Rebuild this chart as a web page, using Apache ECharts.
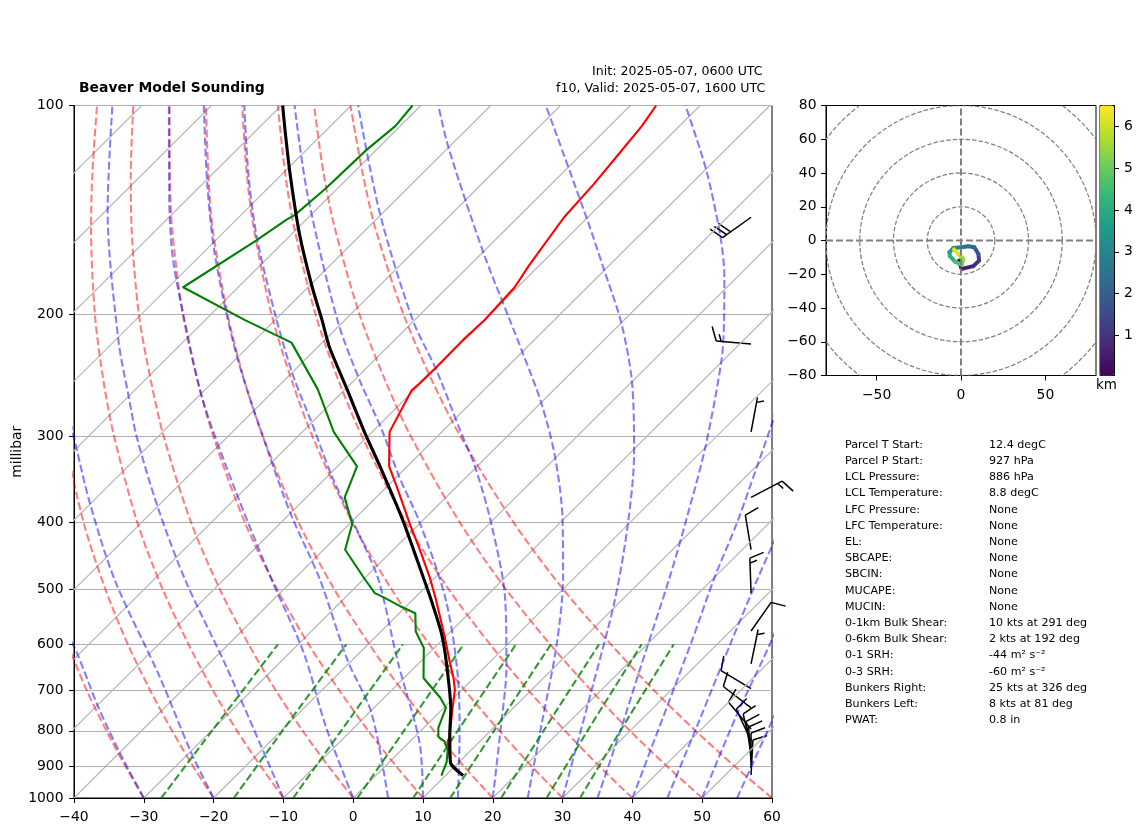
<!DOCTYPE HTML>
<html>

<head>
    <title>Beaver Model Sounding</title>
    <script src="https://cdn.jsdelivr.net/npm/echarts@6/dist/echarts.min.js"></script>
    <style>
        html, body { margin: 0; padding: 0; background: #fff; }
    </style>
</head>

<body>

<div id="main" style="width: 1142px;height: 832px;"></div>

<script type="text/javascript">

    // sounding profiles, pressure in hPa and temperature in degC
    var tempP = [928, 890, 829, 816, 738, 698, 671, 638, 585, 518, 481, 438, 403, 355, 332, 296, 258, 252, 239, 218, 204, 183, 170, 145, 130, 117, 107, 100];
    var tempT = [12.5, 8.9, 5.4, 5.0, 1.1, -1.0, -2.9, -5.6, -10.1, -16.6, -20.7, -26.2, -31.2, -38.6, -42.6, -47.5, -50.3, -50.2, -50.1, -50.2, -50.0, -50.4, -51.5, -53.4, -53.9, -54.7, -55.4, -56.3];

    var dewP = [928, 887, 852, 829, 816, 792, 741, 717, 671, 607, 575, 541, 528, 514, 506, 484, 438, 402, 368, 332, 296, 257, 220, 204, 183, 157, 146, 144, 132, 116, 107, 100];
    var dewT = [9.4, 8.2, 6.6, 5.0, 3.4, 2.1, 0.3, -1.9, -7.2, -11.5, -15.0, -17.7, -21.0, -24.3, -26.4, -29.7, -36.9, -39.6, -44.5, -47.2, -55.5, -63.9, -74.4, -84.4, -97.9, -94.2, -92.8, -92.3, -91.7, -91.4, -90.7, -91.2];

    var parcelP = [928, 890, 806, 746, 638, 578, 518, 465, 397, 332, 297, 257, 223, 204, 183, 153, 124, 107, 100];
    var parcelT = [12.5, 8.9, 4.5, 1.3, -6.1, -11.1, -17.3, -23.6, -32.9, -43.9, -50.9, -59.7, -68.4, -73.3, -79.4, -89.0, -99.5, -106.6, -109.8];

    // background lines
    var isotherms = [-130, -120, -110, -100, -90, -80, -70, -60, -50, -40, -30, -20, -10, 0, 10, 20, 30, 40, 50];

    var dryLevels = [1000, 900, 800, 700, 600, 500, 400, 300, 250, 200, 150, 125, 100];
    var dryAdiabats = [
        [-30, -37.2, -45.0, -53.6, -63.0, -73.7, -86.0],
        [-20, -27.5, -35.6, -44.5, -54.4, -65.5, -78.3, -93.5, -102.5, -113.0],
        [-10, -17.8, -26.3, -35.5, -45.7, -57.3, -70.6, -86.4, -95.8, -106.7, -119.7, -127.4, -136.4],
        [0, -8.1, -16.9, -26.5, -37.1, -49.1, -62.9, -79.3, -89.0, -100.4, -113.9, -121.9, -131.2],
        [10, 1.6, -7.5, -17.4, -28.5, -40.9, -55.2, -72.2, -82.3, -94.1, -108.1, -116.3, -126.0],
        [20, 11.3, 1.9, -8.4, -19.8, -32.7, -47.5, -65.1, -75.6, -87.7, -102.3, -110.8, -120.8],
        [30, 21.0, 11.3, 0.6, -11.2, -24.5, -39.8, -58.0, -68.8, -81.4, -96.4, -105.3, -115.6],
        [40, 30.7, 20.7, 9.7, -2.5, -16.3, -32.1, -50.9, -62.1, -75.1, -90.6, -99.8, -110.5],
        [50, 40.4, 30.0, 18.7, 6.1, -8.1, -24.4, -43.9, -55.4, -68.8, -84.8, -94.3, -105.3],
        [60, 50.1, 39.4, 27.7, 14.8, 0.1, -16.7, -36.8, -48.7, -62.5, -79.0, -88.7, -100.1]
    ];

    // [pressure, temperature] read along each moist adiabat
    var moistAdiabats = [
        [[1000, -30], [861, -39.9], [738, -49.7], [615, -60.7], [553, -67.7]],
        [[1000, -20], [862, -29.6], [668, -45.2], [484, -65.6], [375, -80.2], [312, -90.1], [266, -98.6]],
        [[1000, -10], [646, -37.1], [484, -55.5], [380, -69.9], [301, -83.0], [263, -90.0], [218, -99.6], [142, -119.7], [100, -134.2]],
        [[1000, 0], [790, -14.1], [617, -28.0], [484, -43.1], [363, -60.6], [266, -78.9], [204, -93.0], [167, -103.3], [138, -112.1], [100, -126.1]],
        [[1000, 5], [754, -9.6], [632, -20.7], [483, -36.3], [393, -49.2], [332, -59.2], [230, -80.3], [165, -97.8], [129, -109.6], [100, -121.1]],
        [[1000, 10], [833, 1.6], [636, -13.2], [484, -27.8], [419, -36.7], [344, -49.2], [287, -60.0], [246, -69.3], [204, -79.8], [156, -94.2], [126, -104.7], [100, -115.3]],
        [[1000, 15], [806, 5.9], [682, -1.5], [518, -15.2], [399, -30.3], [344, -39.6], [294, -48.9], [249, -59.3], [204, -71.1], [134, -93.6], [100, -108.1]],
        [[1000, 20], [785, 10.7], [647, 3.1], [518, -6.7], [401, -19.8], [332, -30.3], [297, -37.1], [241, -49.7], [204, -60.3], [143, -80.4], [100, -99.0]],
        [[1000, 25], [772, 15.9], [601, 7.1], [479, -1.8], [397, -10.0], [321, -20.3], [269, -29.9], [228, -39.7], [204, -46.4], [163, -59.9], [115, -80.0], [100, -87.5]],
        [[1000, 30], [698, 18.6], [518, 9.0], [401, -0.2], [317, -9.5], [250, -20.1], [206, -30.0], [173, -40.0], [146, -49.8], [100, -72.1]],
        [[1000, 35], [789, 28.2], [653, 22.6], [479, 13.5], [397, 7.7], [312, 0.0], [233, -10.3], [204, -15.7], [177, -21.8], [155, -28.1], [124, -39.8], [100, -52.1]],
        [[1000, 40], [591, 25.8], [480, 20.0], [401, 15.4], [333, 10.2], [287, 6.0], [241, 0.9]],
        [[1000, 45], [772, 38.4], [591, 31.5], [481, 26.3], [434, 23.8], [377, 20.4]],
        [[1000, 50], [759, 43.0], [591, 37.2], [484, 31.9]],
        [[1000, 55], [777, 49.0], [632, 44.1]]
    ];

    var mixingLevels = [1000, 800, 600];
    var mixingLines = [
        [-27.5, -29.9, -32.9],
        [-17.1, -19.8, -23.1],
        [-8.6, -11.4, -15.0],
        [0.6, -2.4, -6.3],
        [8.6, 5.3, 1.2],
        [13.9, 10.5, 6.2],
        [21.2, 17.6, 13.1],
        [27.7, 23.9, 19.2],
        [32.5, 28.6, 23.8]
    ];

    // wind barbs
    var barbP = [145, 221, 296, 368, 438, 506, 574, 640, 695, 741, 795, 827, 847, 870, 887, 905, 926];
    var barbSpeed = [30, 15, 5, 15, 10, 15, 10, 5, 10, 10, 10, 10, 10, 10, 10, 10, 10];
    var barbDir = [234.5, 275, 10.6, 62.4, 350.6, 358, 35, 11.7, 301, 307.6, 320, 335, 347, 352, 356, 0, 3];

    // hodograph, knots and km
    var hodoU = [-1.2, 0.4, 7.3, 10.7, 10.3, 7.9, 4.3, 0.4, -4.5, -6.9, -6.5, -3.6, 0.4, 1.4, -1.6, -4.2];
    var hodoV = [-11.9, -16.8, -15.2, -11.9, -7.9, -4.0, -3.4, -4.0, -4.5, -6.9, -9.3, -12.5, -14.4, -10.9, -7.9, -5.3];
    var hodoH = [0.1, 0.4, 0.7, 1.1, 1.5, 2.0, 2.3, 2.7, 3.1, 3.5, 3.9, 4.3, 4.9, 5.3, 5.9, 6.4];
    var hodoRings = [20, 40, 60, 80, 100];

    var pressureTicks = [100, 200, 300, 400, 500, 600, 700, 800, 900, 1000];
    var viridis = ['#440154', '#482878', '#3e4989', '#31688e', '#26828e', '#1f9e89', '#35b779', '#6ece58', '#b5de2b', '#fde725'];

    var statLabels = ['Parcel T Start:', 'Parcel P Start:', 'LCL Pressure:', 'LCL Temperature:', 'LFC Pressure:', 'LFC Temperature:', 'EL:', 'SBCAPE:', 'SBCIN:', 'MUCAPE:', 'MUCIN:', '0-1km Bulk Shear:', '0-6km Bulk Shear:', '0-1 SRH:', '0-3 SRH:', 'Bunkers Right:', 'Bunkers Left:', 'PWAT:'];
    var statValues = ['12.4 degC', '927 hPa', '886 hPa', '8.8 degC', 'None', 'None', 'None', 'None', 'None', 'None', 'None', '10 kts at 291 deg', '2 kts at 192 deg', '-44 m\u00b2 s\u207b\u00b2', '-60 m\u00b2 s\u207b\u00b2', '25 kts at 326 deg', '8 kts at 81 deg', '0.8 in'];

    var FONT = '"DejaVu Sans"';
    var SKEW = 99.7;    // degrees of x per decade of pressure, 45 degree isotherms

    function skewPoint(p, t) {
        return [t + SKEW * Math.log10(1000 / p), Math.log10(p)];
    }

    function minusLabel(v) {
        return String(v).replace('-', '\u2212');
    }

    function guideLine(points, color, width, dash, opacity, smooth) {
        return {
            type: 'line',
            xAxisIndex: 0,
            yAxisIndex: 0,
            data: points,
            symbol: 'none',
            silent: true,
            clip: true,
            smooth: smooth || false,
            lineStyle: { color: color, width: width, type: dash || 'solid', opacity: opacity, join: 'round' }
        };
    }

    function profileLine(pres, temp, color, width, smooth) {
        var pts = pres.map(function (p, i) { return skewPoint(p, temp[i]); });
        return guideLine(pts, color, width, null, 1, smooth);
    }

    function renderBarb(params, api) {
        var base = api.coord([api.value(0), api.value(1)]);
        var speed = api.value(2);
        var ang = api.value(3) * Math.PI / 180;
        var sx = Math.sin(ang), sy = -Math.cos(ang);
        var px = -sy, py = sx;
        var tip = [base[0] + 35 * sx, base[1] + 35 * sy];
        var style = { stroke: '#000', lineWidth: 1.5, fill: null };
        var kids = [{ type: 'line', shape: { x1: base[0], y1: base[1], x2: tip[0], y2: tip[1] }, style: style }];
        var pos = 0;
        var full = Math.floor(speed / 10);
        for (var i = 0; i < full; i++) {
            var a = [tip[0] - pos * sx, tip[1] - pos * sy];
            kids.push({ type: 'line', shape: { x1: a[0], y1: a[1], x2: a[0] + 14 * px + 5.25 * sx, y2: a[1] + 14 * py + 5.25 * sy }, style: style });
            pos += 5;
        }
        if (speed % 10 >= 5) {
            if (full === 0) { pos = 5; }
            var b = [tip[0] - pos * sx, tip[1] - pos * sy];
            kids.push({ type: 'line', shape: { x1: b[0], y1: b[1], x2: b[0] + 7 * px + 2.6 * sx, y2: b[1] + 7 * py + 2.6 * sy }, style: style });
        }
        return { type: 'group', children: kids };
    }

    function renderRing(params, api) {
        var c = api.coord([0, 0]);
        var e = api.coord([api.value(0), 0]);
        return {
            type: 'circle',
            shape: { cx: c[0], cy: c[1], r: e[0] - c[0] },
            style: { fill: 'none', stroke: '#808080', lineWidth: 1.25, lineDash: [4.5, 2] }
        };
    }

    function renderHodoSegment(params, api) {
        var a = api.coord([api.value(0), api.value(1)]);
        var b = api.coord([api.value(2), api.value(3)]);
        return {
            type: 'line',
            shape: { x1: a[0], y1: a[1], x2: b[0], y2: b[1] },
            style: { stroke: api.visual('color'), lineWidth: 4, lineCap: 'round', fill: null }
        };
    }

    function buildSeries() {
        var series = [];
        isotherms.forEach(function (t) {
            series.push(guideLine([skewPoint(1000, t), skewPoint(100, t)], '#b8b8b8', 1.2, null, 1));
        });
        dryAdiabats.forEach(function (row) {
            var pts = row.map(function (t, i) { return skewPoint(dryLevels[i], t); });
            series.push(guideLine(pts, '#ff0000', 2.1, [7.7, 3.3], 0.5, 0.3));
        });
        moistAdiabats.forEach(function (line) {
            var pts = line.map(function (d) { return skewPoint(d[0], d[1]); });
            series.push(guideLine(pts, '#0000ff', 2.1, [7.7, 3.3], 0.5, 0.3));
        });
        mixingLines.forEach(function (row) {
            var pts = row.map(function (t, i) { return skewPoint(mixingLevels[i], t); });
            series.push(guideLine(pts, '#008000', 2.1, [7.7, 3.3], 0.8, 0.3));
        });
        series.push(profileLine(tempP, tempT, '#ff0000', 2.1));
        series.push(profileLine(dewP, dewT, '#008000', 2.1));
        series.push(profileLine(parcelP, parcelT, '#000000', 3.1, 0.2));

        series.push({
            type: 'custom',
            xAxisIndex: 0,
            yAxisIndex: 0,
            silent: true,
            clip: false,
            renderItem: renderBarb,
            encode: { x: 0, y: 1 },
            data: barbP.map(function (p, i) { return [57, Math.log10(p), barbSpeed[i], barbDir[i]]; })
        });

        // hodograph
        series.push({
            type: 'custom',
            xAxisIndex: 1,
            yAxisIndex: 1,
            silent: true,
            clip: true,
            renderItem: renderRing,
            encode: { x: 0, y: 1 },
            data: hodoRings.map(function (r) { return [r, 0]; })
        });
        [[[-80, 0], [80, 0]], [[0, -80], [0, 80]]].forEach(function (pts) {
            series.push({
                type: 'line',
                xAxisIndex: 1,
                yAxisIndex: 1,
                data: pts,
                symbol: 'none',
                silent: true,
                lineStyle: { color: '#808080', width: 2, type: [7, 3] }
            });
        });
        var segments = [];
        for (var i = 0; i < hodoU.length - 1; i++) {
            segments.push([hodoU[i], hodoV[i], hodoU[i + 1], hodoV[i + 1], (hodoH[i] + hodoH[i + 1]) / 2]);
        }
        series.push({
            type: 'custom',
            xAxisIndex: 1,
            yAxisIndex: 1,
            silent: true,
            renderItem: renderHodoSegment,
            encode: { x: [0, 2], y: [1, 3] },
            data: segments
        });
        return series;
    }

    function buildGraphics() {
        var g = [
            { type: 'text', left: 79, top: 74, style: { text: 'Beaver Model Sounding', font: 'bold 13.9px ' + FONT, fill: '#000' } },
            { type: 'text', left: 592, top: 59, style: { text: 'Init: 2025-05-07, 0600 UTC', font: '12.6px ' + FONT, fill: '#000' } },
            { type: 'text', left: 556, top: 76.5, style: { text: 'f10, Valid: 2025-05-07, 1600 UTC', font: '12.6px ' + FONT, fill: '#000' } },
            { type: 'text', left: 1096, top: 372, style: { text: 'km', font: '13.5px ' + FONT, fill: '#000' } }
        ];
        statLabels.forEach(function (label, i) {
            var y = 434 + i * 16.2;
            g.push({ type: 'text', left: 845, top: y, style: { text: label, font: '11.1px ' + FONT, fill: '#000' } });
            g.push({ type: 'text', left: 989, top: y, style: { text: statValues[i], font: '11.1px ' + FONT, fill: '#000' } });
        });
        return g;
    }

    var tickLine = { show: true, length: 5, lineStyle: { color: '#000', width: 1 } };
    var axisEdge = { show: true, onZero: false, lineStyle: { color: '#000', width: 1 } };
    var labelStyle = { color: '#000', fontFamily: FONT, fontSize: 13.9 };

    var myChart = echarts.init(document.getElementById('main'), null, { width: 1142, height: 832, renderer: 'canvas' });

    var hodoIndex = buildSeries().length - 1;

    myChart.setOption({
        animation: false,
        textStyle: { fontFamily: FONT },
        grid: [
            { left: 74, top: 105.5, width: 698, height: 692.5, show: true, borderColor: '#000', borderWidth: 1, outerBoundsMode: 'none' },
            { left: 826, top: 105.5, width: 270, height: 270, show: true, borderColor: '#000', borderWidth: 1, outerBoundsMode: 'none' },
            { left: 1100, top: 105.5, width: 14, height: 270, show: true, borderColor: '#000', borderWidth: 1, backgroundColor: 'transparent', outerBoundsMode: 'none' }
        ],
        xAxis: [
            {
                type: 'value', gridIndex: 0, min: -40, max: 60, interval: 10,
                axisLine: axisEdge, axisTick: tickLine, splitLine: { show: false },
                axisLabel: Object.assign({ formatter: minusLabel, margin: 6 }, labelStyle)
            },
            {
                type: 'value', gridIndex: 1, min: -80, max: 80,
                axisLine: axisEdge,
                axisTick: Object.assign({ customValues: [-50, 0, 50] }, tickLine),
                splitLine: { show: false },
                axisLabel: Object.assign({ customValues: [-50, 0, 50], formatter: minusLabel, margin: 6 }, labelStyle)
            },
            { type: 'value', gridIndex: 2, min: 0, max: 1, show: false }
        ],
        yAxis: [
            {
                type: 'value', gridIndex: 0, min: 2, max: 3, inverse: true,
                name: 'millibar', nameLocation: 'middle', nameGap: 43, nameMoveOverlap: false,
                nameTextStyle: labelStyle,
                axisLine: axisEdge,
                axisTick: Object.assign({ customValues: pressureTicks.map(Math.log10) }, tickLine),
                splitLine: { show: true, lineStyle: { color: '#b0b0b0', width: 1 } },
                axisLabel: Object.assign({
                    customValues: pressureTicks.map(Math.log10),
                    formatter: function (v) { return String(Math.round(Math.pow(10, v))); },
                    margin: 10.5
                }, labelStyle)
            },
            {
                type: 'value', gridIndex: 1, min: -80, max: 80, interval: 20,
                axisLine: axisEdge, axisTick: tickLine, splitLine: { show: false },
                axisLabel: Object.assign({ formatter: minusLabel, margin: 9.5 }, labelStyle)
            },
            {
                type: 'value', gridIndex: 2, min: 0.04, max: 6.5, position: 'right',
                axisLine: axisEdge,
                axisTick: Object.assign({ customValues: [1, 2, 3, 4, 5, 6] }, tickLine),
                splitLine: { show: false },
                axisLabel: Object.assign({ customValues: [1, 2, 3, 4, 5, 6], margin: 10 }, labelStyle)
            }
        ],
        visualMap: {
            type: 'continuous',
            min: 0.04,
            max: 6.5,
            seriesIndex: hodoIndex,
            dimension: 4,
            left: 1100,
            top: 105.5,
            padding: 0,
            itemWidth: 14,
            itemHeight: 270,
            calculable: false,
            hoverLink: false,
            text: null,
            inRange: { color: viridis }
        },
        graphic: buildGraphics(),
        series: buildSeries()
    });

</script>

</body>

</html>
